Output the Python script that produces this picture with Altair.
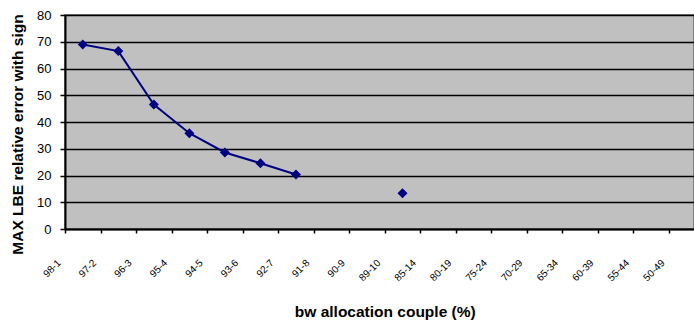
import altair as alt
import pandas as pd

categories = ["98-1", "97-2", "96-3", "95-4", "94-5", "93-6", "92-7", "91-8", "90-9",
              "89-10", "85-14", "80-19", "75-24", "70-29", "65-34", "60-39", "55-44", "50-49"]
values = [69.0, 66.5, 46.5, 35.8, 28.6, 24.6, 20.4, None, None,
          13.4, None, None, None, None, None, None, None, None]
y_ticks = [0, 10, 20, 30, 40, 50, 60, 70, 80]

# split into contiguous runs (a gap breaks the line)
seg, s, prev = [], 0, True
for v in values:
    if v is None:
        prev = False
        seg.append(None)
    else:
        if not prev:
            s += 1
        prev = True
        seg.append(s)

df = pd.DataFrame({"cat": categories, "val": values, "seg": seg})
pts = df.dropna(subset=["val"])

FONT = "Liberation Sans"
NAVY = "#000080"

xscale = alt.Scale(type="band", domain=categories, range=[0, 639.5], paddingInner=0, paddingOuter=0)
yscale = alt.Scale(domain=[0, 80], nice=False)

xenc = alt.X("cat:N", scale=xscale, sort=categories,
             axis=alt.Axis(title="bw allocation couple (%)", tickBand="extent", grid=False,
                           labelAngle=315, labelAlign="right", labelBaseline="middle",
                           labelOffset=-24, labelPadding=28, labelFont=FONT, labelFontSize=10,
                           labelColor="black", tickColor="black", tickSize=4, domainColor="black",
                           domainWidth=2, tickWidth=1.5, titleFont=FONT, titleFontSize=15.5,
                           titleFontWeight="bold", titleColor="black", titleY=87,
                           titleBaseline="alphabetic", labelOverlap=False))
yenc = alt.Y("val:Q", scale=yscale,
             axis=alt.Axis(title="MAX LBE relative error with sign", values=y_ticks, tickCount=20,
                           grid=True, gridColor="black", gridWidth=1.5, labelFont=FONT,
                           labelFontSize=13, labelColor="black", labelPadding=9, labelOverlap=False,
                           tickColor="black", tickSize=5, tickWidth=1.5, domainColor="black",
                           domainWidth=2, titleFont=FONT, titleFontSize=15.5, titleFontWeight="bold",
                           titleColor="black", titleX=-48, titleY=119, titleAngle=270,
                           titleAlign="center", titleBaseline="middle"))

base = alt.Chart(pts).encode(x=xenc, y=yenc)
line = base.mark_line(color=NAVY, strokeWidth=2).encode(detail="seg:N")
points = base.mark_point(shape="diamond", filled=True, color=NAVY, size=100, opacity=1)

chart = alt.layer(line, points).properties(
    width=629, height=214,
    autosize=alt.AutoSizeParams(type="none"),
    padding={"left": 65, "top": 15, "right": 0, "bottom": 93},
    background="white",
).configure_view(fill="#C0C0C0", stroke="#808080", strokeWidth=2)

chart.save("out.html", embed_options={"renderer": "svg", "actions": False})
